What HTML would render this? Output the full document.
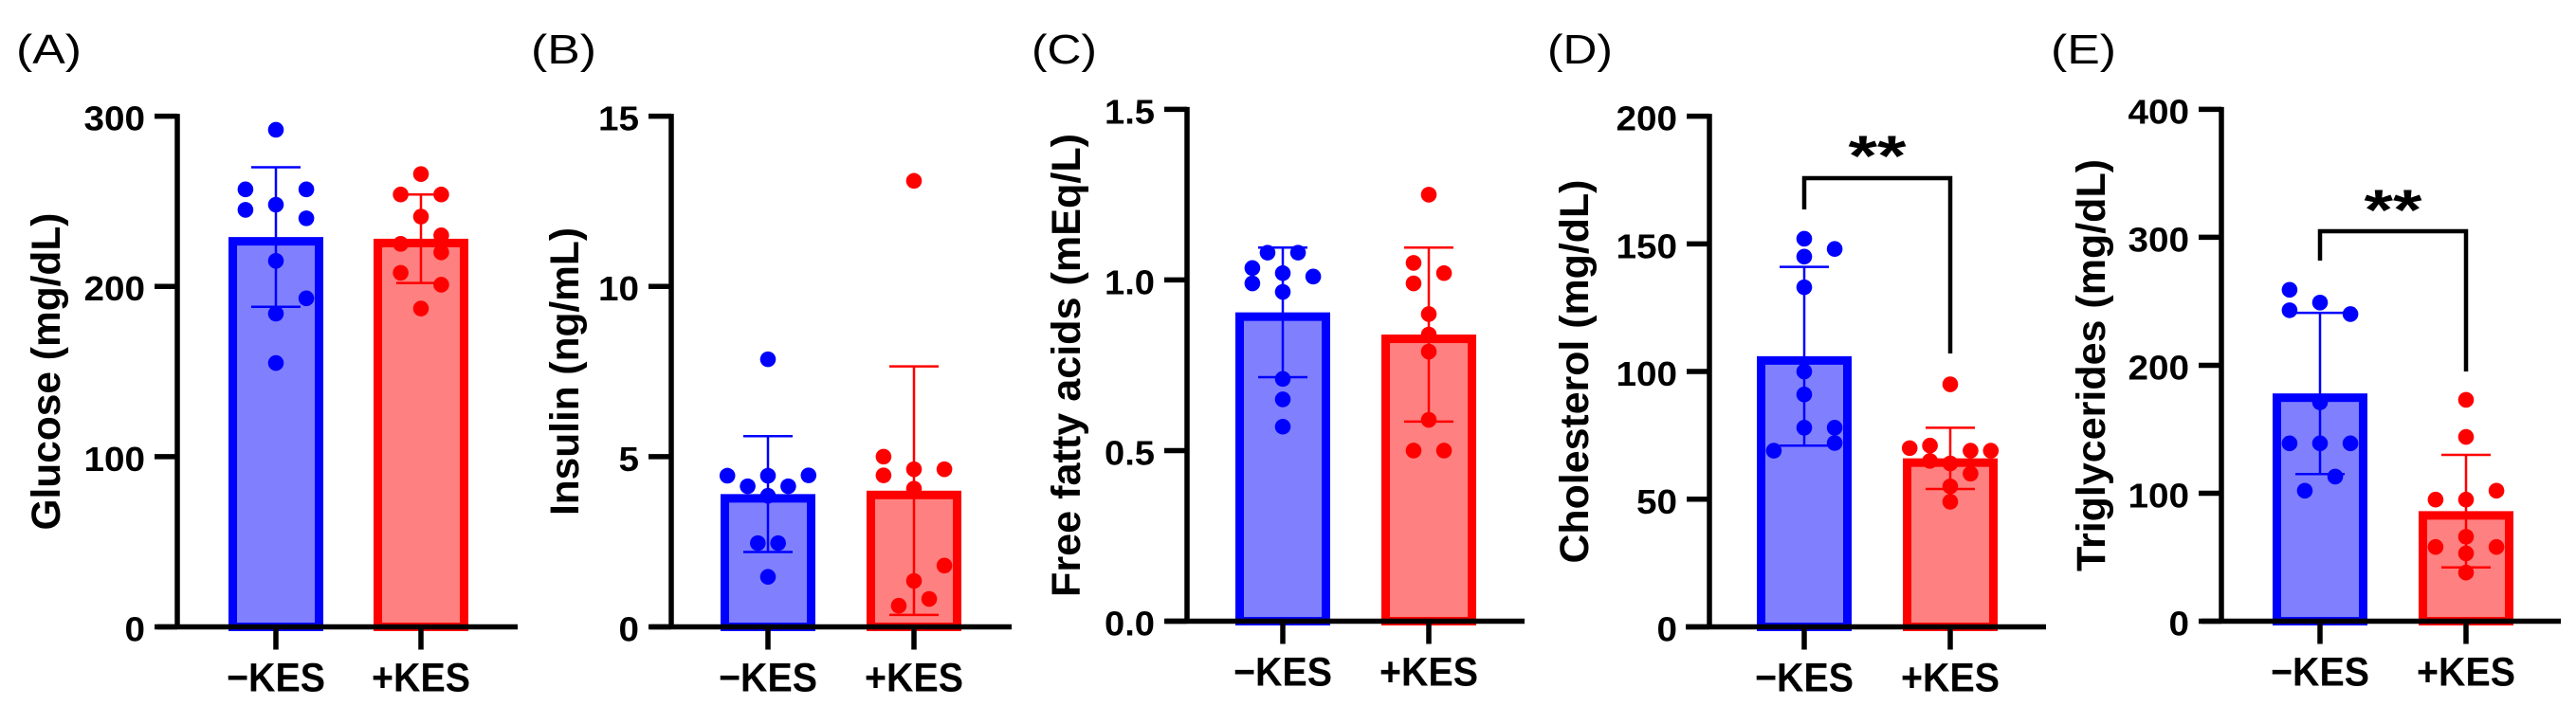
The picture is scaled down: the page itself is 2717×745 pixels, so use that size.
<!DOCTYPE html>
<html><head><meta charset="utf-8"><style>
html,body{margin:0;padding:0;background:#fff;}
svg{display:block;font-family:"Liberation Sans",Arial,sans-serif;}
</style></head><body>
<svg id="fig" width="2717" height="745" viewBox="0 0 2717 745" xmlns="http://www.w3.org/2000/svg"></svg>
<script>
// ---- data ----
const categories = ['\u2212KES', '+KES'];
const panelLetters = ['(A)', '(B)', '(C)', '(D)', '(E)'];
const yTitles = ['Glucose (mg/dL)', 'Insulin (ng/mL)', 'Free fatty acids (mEq/L)', 'Cholesterol (mg/dL)', 'Triglycerides (mg/dL)'];
const yMax = [300, 15, 1.5, 200, 400];
const tickLabelsA = ['0', '100', '200', '300'];
const tickLabelsB = ['0', '5', '10', '15'];
const tickLabelsC = ['0.0', '0.5', '1.0', '1.5'];
const tickLabelsD = ['0', '50', '100', '150', '200'];
const tickLabelsE = ['0', '100', '200', '300', '400'];
const meansA = [229, 228];  const sdA = [41, 26];
const meansB = [3.9, 4.0];  const sdB = [1.7, 3.65];
const meansC = [0.905, 0.84]; const sdC = [0.19, 0.255];
const meansD = [106, 66];   const sdD = [35, 12];
const meansE = [178, 86];   const sdE = [63, 44];
const glucoseNeg = [292, 257, 257, 248, 245, 240, 215, 193, 184, 155];
const glucosePos = [266, 254, 254, 241, 230, 225, 220, 208, 201, 187];
const insulinNeg = [7.86, 4.44, 4.45, 4.44, 4.13, 4.13, 3.85, 2.46, 2.46, 1.47];
const insulinPos = [13.1, 5.0, 4.45, 4.63, 4.63, 4.06, 1.8, 1.35, 0.82, 0.62];
const ffaNeg = [1.08, 1.08, 1.035, 1.02, 1.01, 0.99, 0.965, 0.71, 0.65, 0.57];
const ffaPos = [1.25, 1.05, 1.02, 0.99, 0.90, 0.84, 0.79, 0.59, 0.50, 0.50];
const cholNeg = [152, 148, 145, 133, 100, 91, 78, 78, 72, 69];
const cholPos = [95, 70, 71, 69, 69, 65, 64, 60, 55, 49];
const trigNeg = [259, 249, 243, 240, 171, 139, 139, 139, 113, 102];
const trigPos = [173, 144, 102, 95, 95, 66, 58, 58, 53, 38];
// ---- layout (not data) ----
const jitA = [[0,-3,3,0,-3,3,0,3,0,0],[0,-2,2,0,2,-2,2,-2,2,0]];
const jitB = [[0,-4,4,0,-2,2,0,-1,1,0],[0,-3,-3,0,3,0,3,0,1.5,-1.5]];
const jitC = [[-1.5,1.5,-3,0,3,-3,0,0,0,0],[0,-1.5,1.5,-1.5,0,0,0,0,-1.5,1.5]];
const jitD = [[0,3,0,0,0,0,0,3,3,-3],[0,-4,-2,2,4,-2,0,2,0,0]];
const jitE = [[-3,0,-3,3,0,-3,0,3,1.5,-1.5],[0,0,3,-3,0,0,-3,3,0,0]];
const panels = [
 {axX:187, top:122.6, zero:661.5, xl:166, xr:546, b0:241, b1:394, ticks:tickLabelsA, means:meansA, sd:sdA, pts:[glucoseNeg,glucosePos], jit:jitA, letterX:17, titleX:48, titleLen:335},
 {axX:708, top:122.6, zero:661.5, xl:686, xr:1067, b0:760, b1:914, ticks:tickLabelsB, means:meansB, sd:sdB, pts:[insulinNeg,insulinPos], jit:jitB, letterX:560, titleX:595, titleLen:304},
 {axX:1252, top:115.4, zero:655.5, xl:1229, xr:1608, b0:1303, b1:1457, ticks:tickLabelsC, means:meansC, sd:sdC, pts:[ffaNeg,ffaPos], jit:jitC, letterX:1088, titleX:1124, titleLen:489},
 {axX:1803, top:122.6, zero:661.5, xl:1778, xr:2158, b0:1853, b1:2007, ticks:tickLabelsD, means:meansD, sd:sdD, pts:[cholNeg,cholPos], jit:jitD, letterX:1632, titleX:1660, titleLen:405, sig:{by:188, l:221, r:373, sy:185}},
 {axX:2343, top:115.4, zero:655.5, xl:2322, xr:2701, b0:2397, b1:2551, ticks:tickLabelsE, means:meansE, sd:sdE, pts:[trigNeg,trigPos], jit:jitE, letterX:2163, titleX:2205, titleLen:435, sig:{by:244, l:275, r:392, sy:242}}
];
const NS = 'http://www.w3.org/2000/svg';
const svg = document.getElementById('fig');
function mk(tag, attrs, parent){ const e=document.createElementNS(NS,tag); for(const k in attrs) e.setAttribute(k,attrs[k]); (parent||svg).appendChild(e); return e; }
const fills=['#8080ff','#ff8080'], strokes=['#0000ff','#ff0000'];
const BW = 100, SW = 9;
panels.forEach((p,i)=>{
  const g = mk('g',{});
  
  
  const y = v => p.zero - v/yMax[i]*(p.zero-p.top);
  const lt = mk('text',{x:p.letterX,y:67,'font-size':44,textLength:69,lengthAdjust:'spacingAndGlyphs'},g); lt.textContent=panelLetters[i];
   
  [p.b0,p.b1].forEach((bx,k)=>{
    const r = mk('rect',{x:bx+SW/2,y:y(p.means[k])+SW/2,width:BW-SW,height:p.zero-y(p.means[k])-SW/2,fill:fills[k],stroke:strokes[k],'stroke-width':SW},g);
     
  });
  [p.b0,p.b1].forEach((bx,k)=>{
    const cx=bx+BW/2, hi=y(p.means[k]+p.sd[k]), lo=y(p.means[k]-p.sd[k]);
    const eg=mk('g',{stroke:strokes[k],'stroke-width':2.5},g);
     
    mk('line',{x1:cx,x2:cx,y1:hi,y2:lo},eg);
    mk('line',{x1:cx-26,x2:cx+26,y1:hi,y2:hi},eg);
    mk('line',{x1:cx-26,x2:cx+26,y1:lo,y2:lo},eg);
  });
  p.pts.forEach((arr,k)=>{
    const cx=(k?p.b1:p.b0)+BW/2;
    arr.forEach((v,j)=>{
      const c=mk('circle',{cx:cx+p.jit[k][j]*10.7,cy:y(v),r:8.3,fill:strokes[k]},g);
       
    });
  });
  const ax=mk('g',{stroke:'#000','stroke-width':5.5,fill:'none'},g);
   
  mk('line',{x1:p.axX,x2:p.axX,y1:p.top-2.5,y2:p.zero},ax);
  mk('line',{x1:p.xl,x2:p.xr,y1:p.zero,y2:p.zero},ax);
  const n=p.ticks.length;
  p.ticks.forEach((t,j)=>{
    const v=yMax[i]*j/(n-1), ty=y(v);
    mk('line',{x1:p.axX-24,x2:p.axX,y1:ty,y2:ty},ax);
    const w=t.replace(/[^0-9]/g,'').length*21.5+(t.includes('.')?10:0);
    const tx=mk('text',{x:p.axX-34,y:ty+15,'font-size':36,'font-weight':'bold','text-anchor':'end',textLength:w,lengthAdjust:'spacingAndGlyphs'},g);
    tx.textContent=t;
     
  });
  [p.b0,p.b1].forEach((bx,k)=>{
    const cx=bx+BW/2;
    mk('line',{x1:cx,x2:cx,y1:p.zero,y2:p.zero+24},ax);
    const xt=mk('text',{x:cx,y:p.zero+68,'font-size':43,'font-weight':'bold','text-anchor':'middle',textLength:104,lengthAdjust:'spacingAndGlyphs'},g);
    xt.textContent=categories[k];
     
  });
  const cy=(p.top+p.zero)/2;
  const tt=mk('text',{x:0,y:0,'font-size':43,'font-weight':'bold','text-anchor':'middle',textLength:p.titleLen,lengthAdjust:'spacingAndGlyphs',transform:`translate(${p.titleX+15},${cy}) rotate(-90)`},g);
  tt.textContent=yTitles[i];
   
  if(p.sig){
    const c0=p.b0+BW/2, c1=p.b1+BW/2;
    const sg=mk('g',{},g);
     
    mk('polyline',{points:`${c0},${p.sig.l} ${c0},${p.sig.by} ${c1},${p.sig.by} ${c1},${p.sig.r}`,fill:'none',stroke:'#000','stroke-width':4.5},sg);
    const st=mk('text',{x:(c0+c1)/2,y:p.sig.sy,'font-size':60,'font-weight':'bold','text-anchor':'middle',textLength:61,lengthAdjust:'spacingAndGlyphs'},sg);
    st.textContent='**';
  }
});
</script>
</body></html>
